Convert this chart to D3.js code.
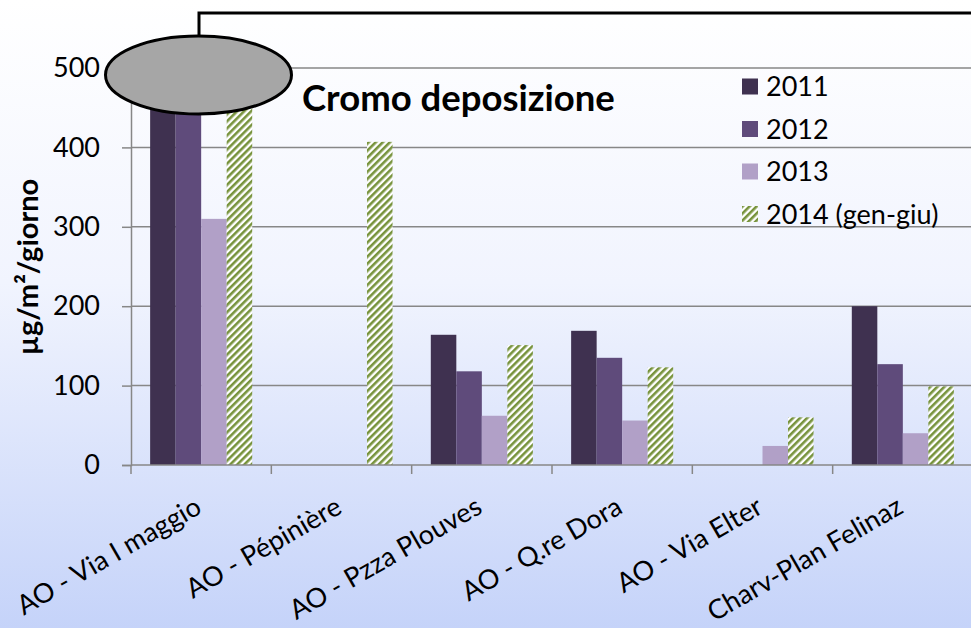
<!DOCTYPE html>
<html>
<head>
<meta charset="utf-8">
<script src="https://cdn.jsdelivr.net/npm/d3@7"></script>
<style>
  body { margin: 0; }
  svg { display: block; font-family: Lato, "Open Sans", sans-serif; }
</style>
</head>
<body>
<svg id="chart"></svg>
<script>
// categories and series
const stations = ["AO - Via I maggio", "AO - Pépinière", "AO - Pzza Plouves", "AO - Q.re Dora", "AO - Via Elter", "Charv-Plan Felinaz"]
const years = ["2011", "2012", "2013", "2014 (gen-giu)"]
const v2011 = [600, null, 164, 169, null, 200]
const v2012 = [580, null, 118, 135, null, 127]
const v2013 = [310, null, 62, 56, 24, 40]
const v2014 = [470, 407, 151, 123, 60, 99]
const yTicks = [0, 100, 200, 300, 400, 500]

const series = [v2011, v2012, v2013, v2014]

const width = 971
const height = 628
const pad_left = 131
const pad_right = -2
const pad_top = 68
const pad_bottom = 163

const colors = ["#3f3150", "#5f4b7b", "#b1a0c7", "url(#hatch)"]

let svg = d3.select('#chart')
    .attr('width', width)
    .attr('height', height)

let defs = svg.append('defs')

// background gradient, white on top to light blue
let grad = defs.append('linearGradient')
    .attr('id', 'bg')
    .attr('x1', 0).attr('y1', 0).attr('x2', 0).attr('y2', 1)
grad.append('stop').attr('offset', '0%').attr('stop-color', '#ffffff')
grad.append('stop').attr('offset', '45%').attr('stop-color', '#f1f4fe')
grad.append('stop').attr('offset', '100%').attr('stop-color', '#c5d3f9')

// green diagonal hatch for 2014
let hatch = defs.append('pattern')
    .attr('id', 'hatch')
    .attr('patternUnits', 'userSpaceOnUse')
    .attr('width', 5)
    .attr('height', 5)
    .attr('patternTransform', 'rotate(45)')
hatch.append('rect').attr('width', 5).attr('height', 5).attr('fill', '#ffffff')
hatch.append('line')
    .attr('x1', 1.3).attr('y1', 0).attr('x2', 1.3).attr('y2', 5)
    .attr('stroke', '#77933c')
    .attr('stroke-width', 2.6)

defs.append('clipPath').attr('id', 'plotclip')
    .append('rect')
    .attr('x', pad_left).attr('y', pad_top)
    .attr('width', width - pad_left - pad_right).attr('height', height - pad_top - pad_bottom)

svg.append('rect')
    .attr('width', width).attr('height', height)
    .attr('fill', 'url(#bg)')

let xScale = d3.scaleBand().domain(stations).range([pad_left, width - pad_right])
let x1 = d3.scaleBand().domain(years).range([0, xScale.bandwidth()]).paddingOuter(0.75)
let yScale = d3.scaleLinear().domain([0, 500]).range([height - pad_bottom, pad_top])

// gridlines
svg.append('g')
    .selectAll('line')
    .data(yTicks.slice(1))
    .join('line')
    .attr('x1', pad_left).attr('x2', width)
    .attr('y1', d => yScale(d)).attr('y2', d => yScale(d))
    .attr('stroke', '#878787')
    .attr('stroke-width', 1.5)

// bars
let bars = svg.append('g').attr('clip-path', 'url(#plotclip)')
series.forEach(function(vals, si) {
    bars.append('g')
        .selectAll('rect')
        .data(vals.map((v, i) => [stations[i], v]).filter(d => d[1] !== null))
        .join('rect')
        .attr('x', d => xScale(d[0]) + x1(years[si]))
        .attr('width', x1.bandwidth())
        .attr('y', d => yScale(d[1]))
        .attr('height', d => yScale(0) - yScale(d[1]))
        .attr('fill', colors[si])
})

// y axis
let yAxis = d3.axisLeft(yScale).tickValues(yTicks).tickSize(9).tickPadding(22)
let yg = svg.append('g')
    .attr('transform', 'translate(' + pad_left + ',0)')
    .call(yAxis)
yg.select('.domain').attr('stroke', '#878787').attr('stroke-width', 1.5)
yg.selectAll('.tick line').attr('stroke', '#878787').attr('stroke-width', 1.5)
yg.selectAll('.tick text')
    .attr('font-size', 27)
    .attr('font-family', 'Lato, sans-serif')
    .attr('fill', '#000')

// x axis with ticks on band boundaries
let xg = svg.append('g')
xg.append('line')
    .attr('x1', pad_left).attr('x2', width)
    .attr('y1', yScale(0)).attr('y2', yScale(0))
    .attr('stroke', '#878787').attr('stroke-width', 1.5)
xg.selectAll('.bt')
    .data(stations)
    .join('line')
    .attr('class', 'bt')
    .attr('x1', d => xScale(d)).attr('x2', d => xScale(d))
    .attr('y1', yScale(0)).attr('y2', yScale(0) + 9)
    .attr('stroke', '#878787').attr('stroke-width', 1.5)
xg.selectAll('text')
    .data(stations)
    .join('text')
    .attr('transform', d => 'translate(' + (xScale(d) + xScale.bandwidth() / 2 + 2) + ',512) rotate(-30)')
    .attr('text-anchor', 'end')
    .attr('font-size', 27)
    .text(d => d)

// y label
svg.append('text')
    .attr('transform', 'translate(38,267) rotate(-90)')
    .attr('text-anchor', 'middle')
    .attr('font-size', 29)
    .attr('font-weight', 'bold')
    .text('µg/m²/giorno')

// title
svg.append('text')
    .attr('x', 302).attr('y', 111)
    .attr('font-size', 36.5)
    .attr('font-weight', 'bold')
    .text('Cromo deposizione')

// legend
let legend = svg.append('g').attr('transform', 'translate(742,0)')
years.forEach(function(yr, i) {
    let cy = 86.5 + i * 42.5
    legend.append('rect')
        .attr('x', 0).attr('y', cy - 8)
        .attr('width', 16).attr('height', 16)
        .attr('fill', colors[i])
    legend.append('text')
        .attr('x', 24).attr('y', cy + 9.5)
        .attr('font-size', 27)
        .text(yr)
})

// callout: grey ellipse over the clipped bars, with its connector
svg.append('path')
    .attr('d', 'M199,36 V13 H975')
    .attr('fill', 'none')
    .attr('stroke', '#000')
    .attr('stroke-width', 3)
svg.append('ellipse')
    .attr('cx', 198.5).attr('cy', 75)
    .attr('rx', 93).attr('ry', 39)
    .attr('fill', '#a6a6a6')
    .attr('stroke', '#000')
    .attr('stroke-width', 3)
</script>
</body>
</html>
